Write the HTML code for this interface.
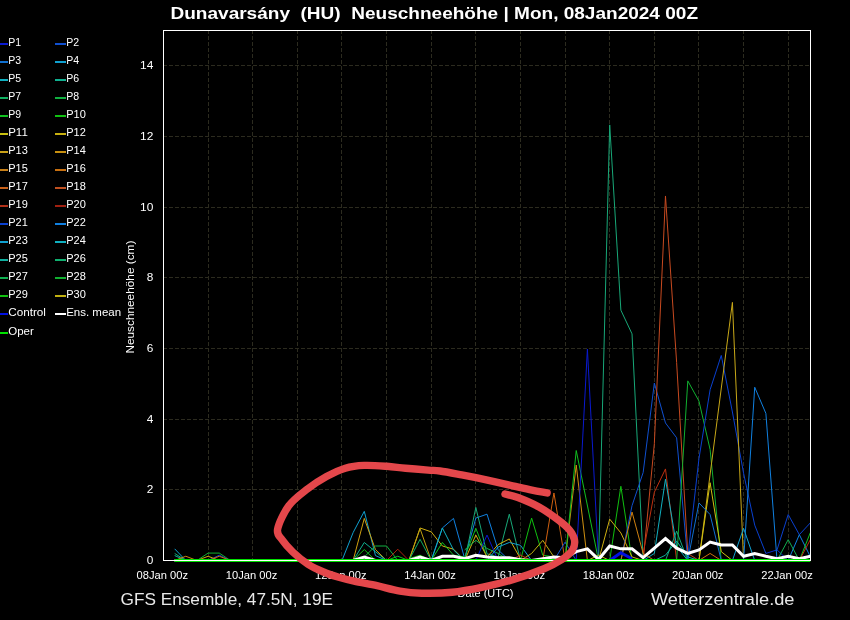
<!DOCTYPE html><html><head><meta charset="utf-8"><style>html,body{margin:0;padding:0;background:#000;width:850px;height:620px;overflow:hidden}svg{display:block;will-change:transform}text{font-family:"Liberation Sans",sans-serif}</style></head><body>
<svg width="850" height="620" viewBox="0 0 850 620">
<rect width="850" height="620" fill="#000"/>
<path d="M163 489.5H810.5M163 419.5H810.5M163 348.5H810.5M163 277.5H810.5M163 207.5H810.5M163 136.5H810.5M163 65.5H810.5M208.5 30V560.5M252.5 30V560.5M297.5 30V560.5M341.5 30V560.5M386.5 30V560.5M431.5 30V560.5M475.5 30V560.5M520.5 30V560.5M565.5 30V560.5M609.5 30V560.5M654.5 30V560.5M698.5 30V560.5M743.5 30V560.5M788.5 30V560.5" stroke="#2c2b1f" stroke-width="1" stroke-dasharray="4 2" fill="none"/>
<defs><clipPath id="clip"><rect x="163.5" y="30.5" width="647.0" height="533.0"/></clipPath></defs>
<g fill="none" stroke-linejoin="miter" stroke-miterlimit="10" stroke-linecap="butt" clip-path="url(#clip)">
<path d="M174.66 548.83 L185.81 560.50" stroke="#10a0d0" stroke-width="1"/>
<path d="M174.66 553.43 L185.81 560.50" stroke="#10b070" stroke-width="1"/>
<path d="M174.66 555.55 L185.81 560.50" stroke="#10b0a0" stroke-width="1"/>
<path d="M174.66 560.50 L185.81 556.26 L196.97 560.50" stroke="#d08010" stroke-width="1"/>
<path d="M196.97 560.50 L208.12 553.08 L219.28 553.08 L230.43 560.50" stroke="#10b030" stroke-width="1"/>
<path d="M196.97 560.50 L208.12 556.26 L219.28 560.50" stroke="#d0b010" stroke-width="1"/>
<path d="M208.12 560.50 L219.28 555.20 L230.43 560.50" stroke="#0a40d0" stroke-width="1"/>
<path d="M208.12 560.50 L219.28 556.26 L230.43 560.50" stroke="#d07010" stroke-width="1"/>
<path d="M341.98 560.50 L353.14 532.57 L364.29 511.35 L375.45 555.55 L386.60 560.50" stroke="#10a0d0" stroke-width="1"/>
<path d="M353.14 560.50 L364.29 518.42 L375.45 549.54 L386.60 560.50" stroke="#d0a010" stroke-width="1"/>
<path d="M353.14 560.50 L364.29 542.47 L375.45 551.66 L386.60 560.50" stroke="#10b090" stroke-width="1"/>
<path d="M364.29 556.96 L375.45 546.00 L386.60 546.00 L397.76 560.50" stroke="#10b040" stroke-width="1"/>
<path d="M353.14 560.50 L364.29 549.54 L375.45 560.50" stroke="#10c010" stroke-width="1"/>
<path d="M386.60 560.50 L397.76 549.19 L408.91 560.50" stroke="#b02010" stroke-width="1"/>
<path d="M386.60 560.50 L397.76 556.26 L408.91 560.50" stroke="#10c020" stroke-width="1"/>
<path d="M408.91 560.50 L420.07 527.97 L431.22 531.86 L442.38 546.00 L453.53 549.19 L464.69 560.50" stroke="#d0b010" stroke-width="1"/>
<path d="M408.91 560.50 L420.07 528.68 L431.22 560.50" stroke="#c0a010" stroke-width="1"/>
<path d="M408.91 560.50 L420.07 539.29 L431.22 560.50" stroke="#10b060" stroke-width="1"/>
<path d="M408.91 558.73 L420.07 555.20 L431.22 560.50" stroke="#10c010" stroke-width="1"/>
<path d="M431.22 560.50 L442.38 527.97 L453.53 518.42 L464.69 558.73 L475.84 518.07 L487.00 514.18 L498.16 549.89 L509.31 560.50" stroke="#1080e0" stroke-width="1"/>
<path d="M431.22 560.50 L442.38 527.97 L453.53 549.89 L464.69 560.50" stroke="#10b0c0" stroke-width="1"/>
<path d="M431.22 560.50 L442.38 542.47 L453.53 555.20 L464.69 556.96 L475.84 528.33 L487.00 556.96 L498.16 560.50" stroke="#10c020" stroke-width="1"/>
<path d="M464.69 560.50 L475.84 507.46 L487.00 553.78 L498.16 556.96 L509.31 514.18 L520.47 560.50" stroke="#18a878" stroke-width="1"/>
<path d="M464.69 560.50 L475.84 535.04 L487.00 556.96 L498.16 544.59 L509.31 538.93 L520.47 558.73 L531.62 560.50" stroke="#d0b010" stroke-width="1"/>
<path d="M464.69 549.89 L475.84 540.35 L487.00 548.48 L498.16 553.43 L509.31 560.50" stroke="#10b050" stroke-width="1"/>
<path d="M475.84 560.50 L487.00 535.04 L498.16 560.50" stroke="#0a1ad0" stroke-width="1"/>
<path d="M487.00 560.50 L498.16 547.06 L509.31 542.47 L520.47 545.30 L531.62 560.50" stroke="#10a0d0" stroke-width="1"/>
<path d="M520.47 560.50 L531.62 518.07 L542.78 555.20 L553.93 556.96 L565.09 560.50" stroke="#10c010" stroke-width="1"/>
<path d="M520.47 560.50 L531.62 553.43 L542.78 540.35 L553.93 556.96 L565.09 560.50" stroke="#c0b010" stroke-width="1"/>
<path d="M542.78 560.50 L553.93 492.97 L565.09 560.50" stroke="#d06010" stroke-width="1"/>
<path d="M509.31 560.50 L520.47 555.20 L531.62 560.50" stroke="#c03010" stroke-width="1"/>
<path d="M553.93 560.50 L565.09 542.11 L576.24 560.50" stroke="#1050d0" stroke-width="1"/>
<path d="M565.09 560.50 L576.24 465.04 L587.40 560.50" stroke="#d09010" stroke-width="1"/>
<path d="M565.09 560.50 L576.24 450.54 L598.55 560.50" stroke="#10c020" stroke-width="1"/>
<path d="M576.24 560.50 L587.40 349.06 L598.55 560.50" stroke="#0a1ad0" stroke-width="1"/>
<path d="M598.55 560.50 L609.71 124.90 L620.86 310.17 L632.02 333.86 L643.17 560.50" stroke="#18a878" stroke-width="1"/>
<path d="M609.71 560.50 L620.86 486.25 L632.02 560.50" stroke="#10c010" stroke-width="1"/>
<path d="M598.55 560.50 L609.71 519.13 L620.86 532.92 L632.02 556.96 L643.17 560.50" stroke="#d0b010" stroke-width="1"/>
<path d="M587.40 560.50 L598.55 555.20 L609.71 560.50" stroke="#c0b010" stroke-width="1"/>
<path d="M620.86 560.50 L632.02 505.70 L643.17 472.46 L654.33 383.01 L665.48 422.96 L676.64 437.81 L687.79 560.50" stroke="#1050d0" stroke-width="1"/>
<path d="M643.17 560.50 L654.33 443.82 L665.48 195.97 L676.64 362.50 L687.79 553.43 L698.95 560.50" stroke="#c84a20" stroke-width="1"/>
<path d="M643.17 553.43 L654.33 492.26 L665.48 468.93 L676.64 560.50" stroke="#c03010" stroke-width="1"/>
<path d="M643.17 560.50 L654.33 553.43 L665.48 479.18 L676.64 546.36 L687.79 560.50" stroke="#10b0c0" stroke-width="1"/>
<path d="M620.86 560.50 L632.02 512.06 L643.17 553.43 L654.33 560.50" stroke="#d08010" stroke-width="1"/>
<path d="M676.64 560.50 L687.79 380.89 L698.95 401.04 L710.10 449.48 L721.26 560.50" stroke="#10b030" stroke-width="1"/>
<path d="M687.79 556.96 L698.95 458.67 L710.10 389.73 L721.26 355.43 L732.41 412.00 L743.57 473.17 L754.72 525.14 L765.88 553.43" stroke="#0a40d0" stroke-width="1"/>
<path d="M765.88 553.43 L777.03 549.89 L788.19 560.50" stroke="#0a30d0" stroke-width="1"/>
<path d="M665.48 560.50 L676.64 531.15 L687.79 560.50" stroke="#18a878" stroke-width="1"/>
<path d="M654.33 560.50 L665.48 555.20 L676.64 541.05 L687.79 556.96 L698.95 560.50" stroke="#10b0a0" stroke-width="1"/>
<path d="M698.95 560.50 L732.41 302.39 L743.57 560.50" stroke="#c8a818" stroke-width="1"/>
<path d="M698.95 560.50 L710.10 482.71 L721.26 551.66 L732.41 560.50" stroke="#d0c010" stroke-width="1"/>
<path d="M687.79 560.50 L698.95 502.87 L710.10 514.54 L721.26 560.50" stroke="#1070d0" stroke-width="1"/>
<path d="M743.57 560.50 L754.72 387.25 L765.88 413.41 L777.03 560.50" stroke="#1080e0" stroke-width="1"/>
<path d="M732.41 560.50 L743.57 528.33 L754.72 560.50" stroke="#10a0d0" stroke-width="1"/>
<path d="M777.03 549.89 L788.19 514.54 L799.34 534.69 L810.50 522.67" stroke="#0a40d0" stroke-width="1"/>
<path d="M788.19 560.50 L799.34 534.69 L810.50 556.96" stroke="#1080e0" stroke-width="1"/>
<path d="M777.03 560.50 L788.19 539.64 L799.34 560.50" stroke="#10b050" stroke-width="1"/>
<path d="M799.34 560.50 L810.50 532.21" stroke="#10c020" stroke-width="1"/>
<path d="M799.34 560.50 L810.50 539.29" stroke="#c03010" stroke-width="1"/>
<path d="M698.95 560.50 L710.10 553.43 L721.26 560.50" stroke="#d07010" stroke-width="1"/>
<path d="M609.71 560.50 L620.86 552.72 L632.02 558.73" stroke="#0010e0" stroke-width="3"/>
<path d="M174.66 560.50 L185.81 560.50 L196.97 560.50 L208.12 560.50 L219.28 560.50 L230.43 560.50 L241.59 560.50 L252.74 560.50 L263.90 560.50 L275.05 560.50 L286.21 560.50 L297.36 560.50 L308.52 560.50 L319.67 560.50 L330.83 560.50 L341.98 560.50 L353.14 560.50 L364.29 556.96 L375.45 560.50 L386.60 560.50 L397.76 560.50 L408.91 560.50 L420.07 556.96 L431.22 560.50 L442.38 556.26 L453.53 556.26 L464.69 558.73 L475.84 555.20 L487.00 556.96 L498.16 557.67 L509.31 557.67 L520.47 559.79 L531.62 560.50 L542.78 558.73 L553.93 556.96 L565.09 557.67 L576.24 551.66 L587.40 548.83 L598.55 559.44 L609.71 546.00 L620.86 548.83 L632.02 548.83 L643.17 557.67 L654.33 548.12 L665.48 538.58 L676.64 548.12 L687.79 553.43 L698.95 549.89 L710.10 542.11 L721.26 544.94 L732.41 544.94 L743.57 556.26 L754.72 553.43 L765.88 556.26 L777.03 558.73 L788.19 556.26 L799.34 558.73 L810.50 556.26" stroke="#ffffff" stroke-width="3"/>
<path d="M174.66 560.50H810.5" stroke="#00e000" stroke-width="3"/>
</g>
<rect x="163.5" y="30.5" width="647.0" height="530.0" fill="none" stroke="#ffffff" stroke-width="1"/>
<text x="153.3" y="564.2" fill="#fff" font-size="10.8" text-anchor="end" textLength="6.6" lengthAdjust="spacingAndGlyphs">0</text>
<text x="153.3" y="493.2" fill="#fff" font-size="10.8" text-anchor="end" textLength="6.6" lengthAdjust="spacingAndGlyphs">2</text>
<text x="153.3" y="423.2" fill="#fff" font-size="10.8" text-anchor="end" textLength="6.6" lengthAdjust="spacingAndGlyphs">4</text>
<text x="153.3" y="352.2" fill="#fff" font-size="10.8" text-anchor="end" textLength="6.6" lengthAdjust="spacingAndGlyphs">6</text>
<text x="153.3" y="281.2" fill="#fff" font-size="10.8" text-anchor="end" textLength="6.6" lengthAdjust="spacingAndGlyphs">8</text>
<text x="153.3" y="211.2" fill="#fff" font-size="10.8" text-anchor="end" textLength="13.3" lengthAdjust="spacingAndGlyphs">10</text>
<text x="153.3" y="140.2" fill="#fff" font-size="10.8" text-anchor="end" textLength="13.3" lengthAdjust="spacingAndGlyphs">12</text>
<text x="153.3" y="69.2" fill="#fff" font-size="10.8" text-anchor="end" textLength="13.3" lengthAdjust="spacingAndGlyphs">14</text>
<text x="162.3" y="579" fill="#fff" font-size="10.5" text-anchor="middle" textLength="51.5" lengthAdjust="spacingAndGlyphs">08Jan 00z</text>
<text x="251.5" y="579" fill="#fff" font-size="10.5" text-anchor="middle" textLength="51.5" lengthAdjust="spacingAndGlyphs">10Jan 00z</text>
<text x="340.8" y="579" fill="#fff" font-size="10.5" text-anchor="middle" textLength="51.5" lengthAdjust="spacingAndGlyphs">12Jan 00z</text>
<text x="430.0" y="579" fill="#fff" font-size="10.5" text-anchor="middle" textLength="51.5" lengthAdjust="spacingAndGlyphs">14Jan 00z</text>
<text x="519.3" y="579" fill="#fff" font-size="10.5" text-anchor="middle" textLength="51.5" lengthAdjust="spacingAndGlyphs">16Jan 00z</text>
<text x="608.5" y="579" fill="#fff" font-size="10.5" text-anchor="middle" textLength="51.5" lengthAdjust="spacingAndGlyphs">18Jan 00z</text>
<text x="697.7" y="579" fill="#fff" font-size="10.5" text-anchor="middle" textLength="51.5" lengthAdjust="spacingAndGlyphs">20Jan 00z</text>
<text x="787.0" y="579" fill="#fff" font-size="10.5" text-anchor="middle" textLength="51.5" lengthAdjust="spacingAndGlyphs">22Jan 00z</text>
<text x="485.5" y="596.5" fill="#fff" font-size="10.5" text-anchor="middle" textLength="56" lengthAdjust="spacingAndGlyphs">Date (UTC)</text>
<text transform="translate(134.4,297.1) rotate(-90)" fill="#fff" font-size="10.8" text-anchor="middle" textLength="113" lengthAdjust="spacingAndGlyphs">Neuschneehöhe (cm)</text>
<text x="170.5" y="18.8" fill="#fff" font-size="16.6" font-weight="bold" textLength="527.5" lengthAdjust="spacingAndGlyphs" xml:space="preserve">Dunavarsány  (HU)  Neuschneehöhe | Mon, 08Jan2024 00Z</text>
<text x="120.5" y="605" fill="#e8e8e8" font-size="17" textLength="212.5" lengthAdjust="spacingAndGlyphs">GFS Ensemble, 47.5N, 19E</text>
<text x="651" y="605" fill="#e8e8e8" font-size="17" textLength="143.5" lengthAdjust="spacingAndGlyphs">Wetterzentrale.de</text>
<path d="M-3 44H8" stroke="#0a1ad0" stroke-width="2"/>
<text x="8.2" y="46" fill="#fff" font-size="11" textLength="12.9" lengthAdjust="spacingAndGlyphs">P1</text>
<path d="M55 44H66" stroke="#1050d0" stroke-width="2"/>
<text x="66.2" y="46" fill="#fff" font-size="11" textLength="12.9" lengthAdjust="spacingAndGlyphs">P2</text>
<path d="M-3 62H8" stroke="#1070d0" stroke-width="2"/>
<text x="8.2" y="64" fill="#fff" font-size="11" textLength="12.9" lengthAdjust="spacingAndGlyphs">P3</text>
<path d="M55 62H66" stroke="#10a0d0" stroke-width="2"/>
<text x="66.2" y="64" fill="#fff" font-size="11" textLength="12.9" lengthAdjust="spacingAndGlyphs">P4</text>
<path d="M-3 80H8" stroke="#10b0c0" stroke-width="2"/>
<text x="8.2" y="82" fill="#fff" font-size="11" textLength="12.9" lengthAdjust="spacingAndGlyphs">P5</text>
<path d="M55 80H66" stroke="#10b090" stroke-width="2"/>
<text x="66.2" y="82" fill="#fff" font-size="11" textLength="12.9" lengthAdjust="spacingAndGlyphs">P6</text>
<path d="M-3 98H8" stroke="#10b060" stroke-width="2"/>
<text x="8.2" y="100" fill="#fff" font-size="11" textLength="12.9" lengthAdjust="spacingAndGlyphs">P7</text>
<path d="M55 98H66" stroke="#10b040" stroke-width="2"/>
<text x="66.2" y="100" fill="#fff" font-size="11" textLength="12.9" lengthAdjust="spacingAndGlyphs">P8</text>
<path d="M-3 116H8" stroke="#10c020" stroke-width="2"/>
<text x="8.2" y="118" fill="#fff" font-size="11" textLength="12.9" lengthAdjust="spacingAndGlyphs">P9</text>
<path d="M55 116H66" stroke="#10c010" stroke-width="2"/>
<text x="66.2" y="118" fill="#fff" font-size="11" textLength="19.6" lengthAdjust="spacingAndGlyphs">P10</text>
<path d="M-3 134H8" stroke="#c8c010" stroke-width="2"/>
<text x="8.2" y="136" fill="#fff" font-size="11" textLength="19.6" lengthAdjust="spacingAndGlyphs">P11</text>
<path d="M55 134H66" stroke="#c8b010" stroke-width="2"/>
<text x="66.2" y="136" fill="#fff" font-size="11" textLength="19.6" lengthAdjust="spacingAndGlyphs">P12</text>
<path d="M-3 152H8" stroke="#c8a018" stroke-width="2"/>
<text x="8.2" y="154" fill="#fff" font-size="11" textLength="19.6" lengthAdjust="spacingAndGlyphs">P13</text>
<path d="M55 152H66" stroke="#c89010" stroke-width="2"/>
<text x="66.2" y="154" fill="#fff" font-size="11" textLength="19.6" lengthAdjust="spacingAndGlyphs">P14</text>
<path d="M-3 170H8" stroke="#c88018" stroke-width="2"/>
<text x="8.2" y="172" fill="#fff" font-size="11" textLength="19.6" lengthAdjust="spacingAndGlyphs">P15</text>
<path d="M55 170H66" stroke="#c87010" stroke-width="2"/>
<text x="66.2" y="172" fill="#fff" font-size="11" textLength="19.6" lengthAdjust="spacingAndGlyphs">P16</text>
<path d="M-3 188H8" stroke="#c86018" stroke-width="2"/>
<text x="8.2" y="190" fill="#fff" font-size="11" textLength="19.6" lengthAdjust="spacingAndGlyphs">P17</text>
<path d="M55 188H66" stroke="#c05020" stroke-width="2"/>
<text x="66.2" y="190" fill="#fff" font-size="11" textLength="19.6" lengthAdjust="spacingAndGlyphs">P18</text>
<path d="M-3 206H8" stroke="#b03018" stroke-width="2"/>
<text x="8.2" y="208" fill="#fff" font-size="11" textLength="19.6" lengthAdjust="spacingAndGlyphs">P19</text>
<path d="M55 206H66" stroke="#a02010" stroke-width="2"/>
<text x="66.2" y="208" fill="#fff" font-size="11" textLength="19.6" lengthAdjust="spacingAndGlyphs">P20</text>
<path d="M-3 224H8" stroke="#0a40d0" stroke-width="2"/>
<text x="8.2" y="226" fill="#fff" font-size="11" textLength="19.6" lengthAdjust="spacingAndGlyphs">P21</text>
<path d="M55 224H66" stroke="#1080e0" stroke-width="2"/>
<text x="66.2" y="226" fill="#fff" font-size="11" textLength="19.6" lengthAdjust="spacingAndGlyphs">P22</text>
<path d="M-3 242H8" stroke="#10a0d0" stroke-width="2"/>
<text x="8.2" y="244" fill="#fff" font-size="11" textLength="19.6" lengthAdjust="spacingAndGlyphs">P23</text>
<path d="M55 242H66" stroke="#10b0c0" stroke-width="2"/>
<text x="66.2" y="244" fill="#fff" font-size="11" textLength="19.6" lengthAdjust="spacingAndGlyphs">P24</text>
<path d="M-3 260H8" stroke="#10b0a0" stroke-width="2"/>
<text x="8.2" y="262" fill="#fff" font-size="11" textLength="19.6" lengthAdjust="spacingAndGlyphs">P25</text>
<path d="M55 260H66" stroke="#10b070" stroke-width="2"/>
<text x="66.2" y="262" fill="#fff" font-size="11" textLength="19.6" lengthAdjust="spacingAndGlyphs">P26</text>
<path d="M-3 278H8" stroke="#10b050" stroke-width="2"/>
<text x="8.2" y="280" fill="#fff" font-size="11" textLength="19.6" lengthAdjust="spacingAndGlyphs">P27</text>
<path d="M55 278H66" stroke="#10b030" stroke-width="2"/>
<text x="66.2" y="280" fill="#fff" font-size="11" textLength="19.6" lengthAdjust="spacingAndGlyphs">P28</text>
<path d="M-3 296H8" stroke="#10c010" stroke-width="2"/>
<text x="8.2" y="298" fill="#fff" font-size="11" textLength="19.6" lengthAdjust="spacingAndGlyphs">P29</text>
<path d="M55 296H66" stroke="#c0b010" stroke-width="2"/>
<text x="66.2" y="298" fill="#fff" font-size="11" textLength="19.6" lengthAdjust="spacingAndGlyphs">P30</text>
<path d="M-3 314H8" stroke="#0010e0" stroke-width="2"/>
<text x="8.2" y="316" fill="#fff" font-size="11" textLength="37.8" lengthAdjust="spacingAndGlyphs">Control</text>
<path d="M55 314H66" stroke="#ffffff" stroke-width="2"/>
<text x="66.2" y="316" fill="#fff" font-size="11" textLength="54.9" lengthAdjust="spacingAndGlyphs">Ens. mean</text>
<path d="M-3 333H8" stroke="#00e000" stroke-width="2"/>
<text x="8.2" y="335" fill="#fff" font-size="11" textLength="25.6" lengthAdjust="spacingAndGlyphs">Oper</text>
<path d="M547.1 492.9 C544.6 492.4 538.3 491.4 531.9 490.1 C525.5 488.8 516.3 486.6 508.5 484.9 C500.7 483.1 493.0 481.3 485.2 479.6 C477.4 477.9 469.3 476.3 461.8 474.9 C454.3 473.5 445.6 471.8 440.0 471.0 C434.4 470.2 433.9 470.6 428.1 470.1 C422.4 469.6 412.4 468.8 405.5 468.2 C398.6 467.6 393.6 466.8 386.7 466.3 C379.8 465.8 371.0 465.1 364.1 465.4 C357.2 465.7 351.6 466.3 345.3 468.2 C339.0 470.1 332.8 473.2 326.5 476.6 C320.2 480.1 313.9 484.0 307.6 488.9 C301.3 493.8 293.8 499.1 288.8 505.8 C283.8 512.5 278.7 523.5 277.6 529.2 C276.5 534.9 279.6 536.1 282.2 539.9 C284.8 543.7 288.6 548.0 292.9 552.1 C297.2 556.2 303.1 561.0 308.2 564.3 C313.3 567.6 318.4 569.8 323.5 572.0 C328.6 574.2 333.7 575.8 338.8 577.3 C343.9 578.8 347.7 579.8 354.1 581.2 C360.5 582.6 369.4 584.1 377.0 585.7 C384.6 587.4 392.6 589.9 400.0 591.1 C407.4 592.4 413.0 593.0 421.7 593.2 C430.4 593.4 442.1 593.3 452.3 592.3 C462.5 591.3 472.7 589.2 482.9 587.1 C493.1 585.0 503.3 582.5 513.5 579.5 C523.7 576.5 535.9 572.1 544.0 568.8 C552.1 565.5 557.2 562.6 562.0 559.5 C566.8 556.4 570.4 553.2 572.5 550.0 C574.6 546.8 575.0 543.3 574.5 540.0 C574.0 536.7 572.3 533.4 569.5 530.0 C566.7 526.6 562.8 523.3 557.7 519.5 C552.6 515.7 545.6 510.7 539.0 507.0 C532.4 503.3 523.6 499.7 517.9 497.5 C512.2 495.3 507.1 494.6 505.0 494.0" stroke="#e4474b" stroke-width="7.4" fill="none" stroke-linecap="round" stroke-linejoin="round"/>
</svg></body></html>
